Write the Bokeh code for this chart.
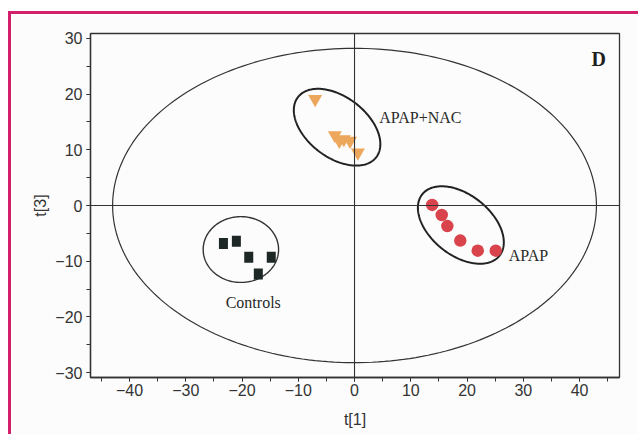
import numpy as np
from bokeh.plotting import figure
from bokeh.models import FixedTicker, Span, Label
from bokeh.core.properties import value
from bokeh.embed import file_html
from bokeh.resources import INLINE

# ---- data ----
ctrl_x = [-23.3, -21.0, -18.8, -14.8, -17.1]
ctrl_y = [-6.8, -6.4, -9.3, -9.3, -12.3]

apap_x = [13.8, 15.5, 16.5, 18.8, 21.9, 25.1]
apap_y = [0.1, -1.7, -3.7, -6.3, -8.1, -8.1]

nac_x = [-7.0, -3.5, -2.7, -1.9, -0.8, 0.6]
nac_y = [19.1, 12.6, 11.6, 11.9, 11.6, 9.5]

# confidence ellipses: Hotelling T2 + one per group
ell_cx = [0.0, -3.1, 18.9, -20.2]
ell_cy = [0.0, 14.05, -3.5, -7.9]
ell_a = [43.0, 8.8, 8.8, 6.7]
ell_b = [28.2, 5.4, 5.4, 5.9]
ell_angle_deg = [0.0, -38.0, -39.0, 0.0]
ell_width = [1.2, 2.0, 2.0, 1.4]

group_labels = ["APAP+NAC", "APAP", "Controls"]
label_x = [4.4, 27.4, -18.0]
label_y = [15.7, -9.0, -17.4]
label_align = ["left", "left", "center"]

panel_letter = "D"

x_ticks = [-40, -30, -20, -10, 0, 10, 20, 30, 40]
x_tick_labels = ["\u221240", "\u221230", "\u221220", "\u221210", "0", "10", "20", "30", "40"]
x_minor = [-45, -40, -35, -30, -25, -20, -15, -10, -5, 0, 5, 10, 15, 20, 25, 30, 35, 40, 45]
y_ticks = [-30, -20, -10, 0, 10, 20, 30]
y_tick_labels = ["\u221230", "\u221220", "\u221210", "0", "10", "20", "30"]
y_minor = [-30, -25, -20, -15, -10, -5, 0, 5, 10, 15, 20, 25, 30]

AX = "#333333"
SANS = "Liberation Sans"
SERIF = "Liberation Serif"

p = figure(width=630, height=423,
           x_range=(-46.93, 47.1), y_range=(-30.86, 30.86),
           output_backend="svg", toolbar_location=None,
           min_border_left=79, min_border_right=22,
           min_border_top=19, min_border_bottom=60,
           background_fill_color="#fcfcfc", border_fill_color="#fcfcfc")
p.styles = {"border-left": "3px solid #d2206b",
            "border-top": "3px solid #d2206b",
            "margin-top": "11px",
            "margin-left": "8px"}

p.grid.visible = False
p.outline_line_color = AX
p.outline_line_width = 1.3

for ax, ticks, minor, labels in ((p.xaxis[0], x_ticks, x_minor, x_tick_labels),
                                  (p.yaxis[0], y_ticks, y_minor, y_tick_labels)):
    ax.ticker = FixedTicker(ticks=ticks, minor_ticks=minor)
    ax.major_label_overrides = {t: l for t, l in zip(ticks, labels)}
    ax.axis_line_color = AX
    ax.axis_line_width = 1.3
    ax.major_tick_line_color = AX
    ax.minor_tick_line_color = AX
    ax.major_tick_in = 0
    ax.minor_tick_in = 0
    ax.major_tick_out = 4
    ax.minor_tick_out = 4
    ax.major_label_text_font = SANS
    ax.major_label_text_font_size = "16px"
    ax.major_label_text_color = AX
    ax.axis_label_text_font = SANS
    ax.axis_label_text_font_size = "16px"
    ax.axis_label_text_font_style = "normal"
    ax.axis_label_text_color = AX

p.xaxis.axis_label = "t[1]"
p.yaxis.axis_label = "t[3]"
p.xaxis.major_label_standoff = 2
p.yaxis.major_label_standoff = 4
p.xaxis.axis_label_standoff = 12
p.yaxis.axis_label_standoff = 3

p.add_layout(Span(location=0, dimension="height", line_color=AX, line_width=1.1))
p.add_layout(Span(location=0, dimension="width", line_color=AX, line_width=1.1))

phi = np.linspace(0, 2 * np.pi, 240)
for cx, cy, a, b, ang, lw in zip(ell_cx, ell_cy, ell_a, ell_b, ell_angle_deg, ell_width):
    t = np.deg2rad(ang)
    ex = cx + a * np.cos(phi) * np.cos(t) - b * np.sin(phi) * np.sin(t)
    ey = cy + a * np.cos(phi) * np.sin(t) + b * np.sin(phi) * np.cos(t)
    p.line(ex, ey, line_color="#222222" if lw > 1.5 else AX, line_width=lw)

p.rect(ctrl_x, ctrl_y, width=9, height=11, width_units="screen", height_units="screen",
       fill_color="#1d2725", line_color=None)
p.scatter(apap_x, apap_y, marker="circle", size=12.5, fill_color="#d9434b", line_color=None)
p.scatter(nac_x, nac_y, marker="inverted_triangle", size=14, fill_color="#eca75c", line_color=None)

for txt, lx, ly, al in zip(group_labels, label_x, label_y, label_align):
    p.text(x=[lx], y=[ly], text=[txt], text_font=value(SERIF), text_font_size="16px",
           text_color="#2a2a2a", text_align=al, text_baseline="middle")

p.add_layout(Label(x=43.4, y=26.3, text=panel_letter, text_font=SERIF, text_font_size="20px",
                   text_font_style="bold", text_color="#1e1e1e", text_align="center",
                   text_baseline="middle"))

open("out.html", "w").write(file_html(p, INLINE))
